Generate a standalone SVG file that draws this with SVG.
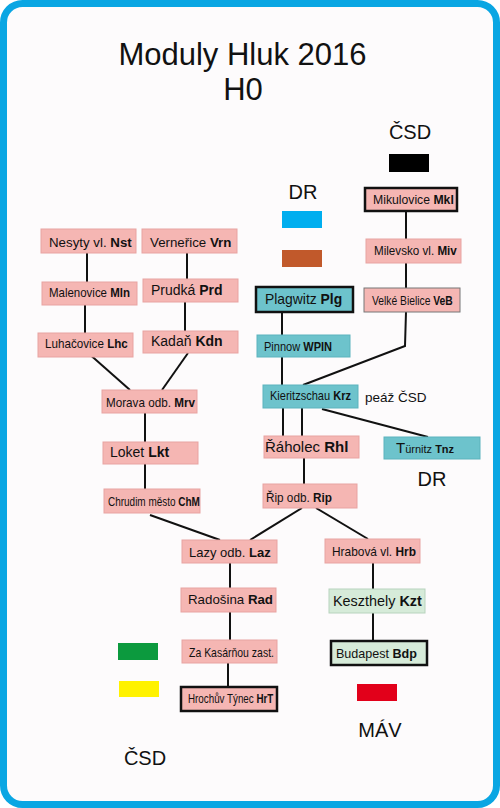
<svg xmlns="http://www.w3.org/2000/svg" width="500" height="808" viewBox="0 0 500 808">
<style>
text{font-family:"Liberation Sans",Arial,sans-serif;fill:#111}
.n{font-size:13px}
.b{font-weight:bold}
.lbl{font-size:20px;text-anchor:middle}
.pk{fill:#F5B6B3;stroke:#E8A3A1;stroke-width:1}
.tl{fill:#6DC3CC;stroke:#5DB3BD;stroke-width:1}
.gr{fill:#D6EBD9;stroke:#B8D3BD;stroke-width:1}
.thick{stroke:#111;stroke-width:2.5}
.thin{stroke:#777;stroke-width:1}
#connectors line,#connectors polyline{stroke:#111;stroke-width:2;fill:none}
</style>
<rect x="3.5" y="3.5" width="493" height="801" rx="19" fill="#FDFBFC" stroke="#0AA6E3" stroke-width="7"/>
<text x="242.5" y="65" font-size="31" text-anchor="middle">Moduly Hluk 2016</text>
<text x="243" y="100" font-size="31" text-anchor="middle">H0</text>

<g id="legend">
<text class="lbl" x="410" y="139">ČSD</text>
<rect x="389" y="154" width="40" height="18" fill="#000"/>
<text class="lbl" x="303" y="199">DR</text>
<rect x="282" y="211" width="40" height="17" fill="#00AEEF"/>
<rect x="282" y="250" width="40" height="17" fill="#C1592B"/>
<rect x="118" y="643" width="40" height="17" fill="#0C9A3E"/>
<rect x="119" y="681" width="40" height="16" fill="#FFF200"/>
<rect x="357" y="684" width="40" height="17" fill="#E2001A"/>
<text class="lbl" x="380" y="737">MÁV</text>
<text class="lbl" x="145" y="765">ČSD</text>
<text class="lbl" x="432" y="486">DR</text>
<text x="365" y="402" font-size="13.5">peáž ČSD</text>
</g>

<g id="connectors">
<line x1="87" y1="253" x2="87" y2="282"/>
<line x1="187" y1="253" x2="187" y2="279"/>
<line x1="85" y1="305" x2="85" y2="333"/>
<line x1="185" y1="302" x2="185" y2="331"/>
<line x1="87" y1="352" x2="130" y2="390"/>
<line x1="188" y1="353" x2="162" y2="390"/>
<line x1="145" y1="413" x2="145" y2="442"/>
<line x1="145" y1="464" x2="145" y2="489"/>
<line x1="150" y1="515" x2="220" y2="540"/>
<line x1="302" y1="508" x2="250" y2="540"/>
<line x1="316" y1="508" x2="368" y2="539"/>
<line x1="230" y1="563" x2="230" y2="588"/>
<line x1="230" y1="612" x2="230" y2="640"/>
<line x1="228" y1="663" x2="228" y2="687"/>
<line x1="373" y1="563" x2="373" y2="589"/>
<line x1="373" y1="613" x2="373" y2="641"/>
<line x1="406" y1="211" x2="406" y2="239"/>
<line x1="406" y1="263" x2="406" y2="288"/>
<polyline points="406,312 405,346 303,385"/>
<line x1="282" y1="312" x2="282" y2="335"/>
<line x1="282" y1="357" x2="282" y2="385"/>
<line x1="283" y1="408" x2="283" y2="436"/>
<line x1="302" y1="408" x2="302" y2="436"/>
<line x1="322" y1="409" x2="428" y2="437"/>
<line x1="304" y1="458" x2="304" y2="484"/>
</g>

<g id="Nst"><rect class="pk" x="41" y="229" width="95" height="24"/><text x="49" y="247" font-size="13.3">Nesyty vl. <tspan class="b">Nst</tspan></text></g>
<g id="Vrn"><rect class="pk" x="142" y="229" width="95" height="24"/><text x="150" y="247" font-size="13.3">Verneřice <tspan class="b">Vrn</tspan></text></g>
<g id="Mln"><rect class="pk" x="42" y="282" width="95" height="23"/><text class="n" transform="translate(49,297) scale(0.883,1)">Malenovice <tspan class="b">Mln</tspan></text></g>
<g id="Prd"><rect class="pk" x="143" y="279" width="95" height="23"/><text x="151" y="295" font-size="14">Prudká <tspan class="b">Prd</tspan></text></g>
<g id="Lhc"><rect class="pk" x="38" y="333" width="95" height="24"/><text class="n" transform="translate(45,348) scale(0.897,1)">Luhačovice <tspan class="b">Lhc</tspan></text></g>
<g id="Kdn"><rect class="pk" x="143" y="331" width="95" height="22"/><text x="151" y="346" font-size="14">Kadaň <tspan class="b">Kdn</tspan></text></g>
<g id="Mrv"><rect class="pk" x="102" y="390" width="95" height="23"/><text class="n" transform="translate(106,407) scale(0.899,1)">Morava odb. <tspan class="b">Mrv</tspan></text></g>
<g id="Lkt"><rect class="pk" x="103" y="442" width="95" height="22"/><text x="110" y="457" font-size="14">Loket <tspan class="b">Lkt</tspan></text></g>
<g id="ChM"><rect class="pk" x="104" y="489" width="96" height="24"/><text font-size="12.5" transform="translate(108,506) scale(0.798,1)">Chrudim město <tspan class="b">ChM</tspan></text></g>
<g id="Laz"><rect class="pk" x="182" y="540" width="95" height="23"/><text x="189" y="557" font-size="13">Lazy odb. <tspan class="b">Laz</tspan></text></g>
<g id="Rad"><rect class="pk" x="181" y="588" width="95" height="24"/><text x="188" y="604" font-size="13.3">Radošina <tspan class="b">Rad</tspan></text></g>
<g id="ZaK"><rect class="pk" x="182" y="640" width="95" height="23"/><text class="n" transform="translate(189,657) scale(0.806,1)">Za Kasárňou zast.</text></g>
<g id="HrT"><rect class="pk thick" x="181" y="687" width="96" height="24"/><text class="n" transform="translate(188,703) scale(0.755,1)">Hrochův Týnec <tspan class="b">HrT</tspan></text></g>
<g id="Hrb"><rect class="pk" x="325" y="539" width="95" height="24"/><text class="n" transform="translate(332,556) scale(0.916,1)">Hrabová vl. <tspan class="b">Hrb</tspan></text></g>
<g id="Kzt"><rect class="gr" x="329" y="589" width="96" height="24"/><text x="333" y="606" font-size="14.4">Keszthely <tspan class="b">Kzt</tspan></text></g>
<g id="Bdp"><rect class="gr thick" x="331" y="641" width="96" height="24"/><text class="n" transform="translate(336,658) scale(0.967,1)">Budapest <tspan class="b">Bdp</tspan></text></g>
<g id="Mkl"><rect class="pk thick" x="365" y="188" width="92" height="23"/><text class="n" transform="translate(373,204) scale(0.94,1)">Mikulovice <tspan class="b">Mkl</tspan></text></g>
<g id="Miv"><rect class="pk" x="366" y="239" width="95" height="24"/><text class="n" transform="translate(374,255) scale(0.897,1)">Milevsko vl. <tspan class="b">Miv</tspan></text></g>
<g id="VeB"><rect class="pk thin" x="364" y="288" width="96" height="24"/><text class="n" transform="translate(372,305) scale(0.794,1)">Velké Bielice <tspan class="b">VeB</tspan></text></g>
<g id="Plg"><rect class="tl thick" x="256" y="287" width="97" height="25"/><text x="265" y="304" font-size="13.9">Plagwitz <tspan class="b">Plg</tspan></text></g>
<g id="WPIN"><rect class="tl" x="257" y="335" width="93" height="22"/><text class="n" transform="translate(264,351) scale(0.85,1)">Pinnow <tspan class="b">WPIN</tspan></text></g>
<g id="Krz"><rect class="tl" x="263" y="385" width="95" height="23"/><text class="n" transform="translate(270,400) scale(0.85,1)">Kieritzschau <tspan class="b">Krz</tspan></text></g>
<g id="Rhl"><rect class="pk" x="264" y="436" width="95" height="22"/><text x="265" y="452" font-size="15">Řáholec <tspan class="b">Rhl</tspan></text></g>
<g id="Tnz"><rect class="tl" x="384" y="437" width="96" height="22"/><text x="396" y="453" font-size="11"><tspan font-size="15">T</tspan>ürnitz <tspan class="b">Tnz</tspan></text></g>
<g id="Rip"><rect class="pk" x="263" y="484" width="94" height="24"/><text class="n" transform="translate(266,502) scale(0.904,1)">Řip odb. <tspan class="b">Rip</tspan></text></g>
</svg>
